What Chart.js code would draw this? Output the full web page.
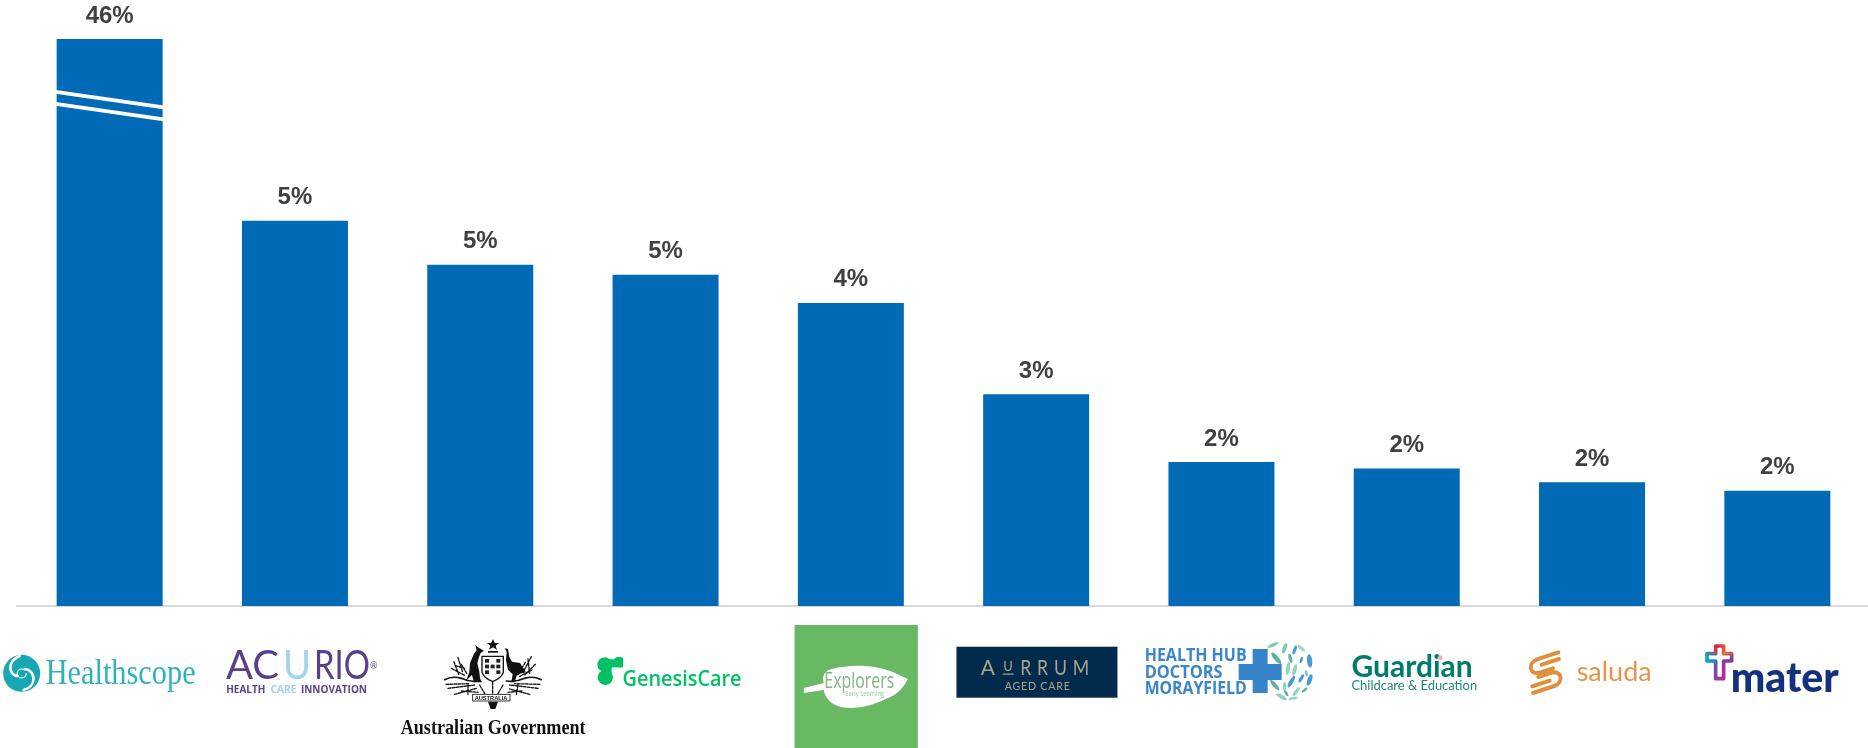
<!DOCTYPE html>
<html>
<head>
<meta charset="utf-8">
<title>Top employers</title>
<script src="https://cdn.jsdelivr.net/npm/chart.js@4"></script>
<style>
  html, body { margin: 0; background: #fff; overflow: hidden; }
  canvas { display: block; }
</style>
</head>
<body>
<canvas id="employerChart" width="1870" height="748"></canvas>
<script>
const categories = ['Healthscope', 'Acurio', 'Australian Government', 'GenesisCare', 'Explorers',
    'Aurrum', 'Health Hub Doctors Morayfield', 'Guardian', 'Saluda', 'Mater'];
const shares = [46, 5.35, 4.74, 4.6, 4.21, 2.94, 2.0, 1.91, 1.72, 1.6];

// Above this value the axis is squeezed, so the first bar fits next to the others.
const breakValue = 6.95;
const belowBreakShare = 0.8825;

class BrokenScale extends Chart.LinearScale {
    static id = 'broken';
    static defaults = Chart.LinearScale.defaults;

    getPixelForValue(value) {
        const share = value <= breakValue
            ? value / breakValue * belowBreakShare
            : belowBreakShare + (value - breakValue) / (this.max - breakValue) * (1 - belowBreakShare);
        return this.bottom - share * (this.bottom - this.top);
    }

    getValueForPixel(pixel) {
        const share = (this.bottom - pixel) / (this.bottom - this.top);
        return share <= belowBreakShare
            ? share / belowBreakShare * breakValue
            : breakValue + (share - belowBreakShare) / (1 - belowBreakShare) * (this.max - breakValue);
    }
}
Chart.register(BrokenScale);

// Text with an optional squeeze and letter spacing.
function text(ctx, str, x, y, font, color, maxWidth, spacing) {
    ctx.font = font;
    ctx.fillStyle = color;
    ctx.letterSpacing = (spacing || 0) + 'px';
    ctx.textAlign = 'left';
    ctx.textBaseline = 'alphabetic';
    if (maxWidth) ctx.fillText(str, x, y, maxWidth);
    else ctx.fillText(str, x, y);
    ctx.letterSpacing = '0px';
}

function inBox(ctx, x, y, scale, draw) {
    ctx.save();
    ctx.translate(x, y);
    ctx.scale(scale, scale);
    draw();
    ctx.restore();
}

function poly(ctx, points) {
    ctx.beginPath();
    points.forEach((p, i) => i ? ctx.lineTo(p[0], p[1]) : ctx.moveTo(p[0], p[1]));
    ctx.closePath();
    ctx.fill();
}

// One brand mark per category, each in coordinates centred on its tick.
const logos = [
    function healthscope(ctx) {
        ctx.fillStyle = '#17a6b4';
        ctx.beginPath();
        ctx.arc(-88, 67.3, 18.5, 0, Math.PI * 2);
        ctx.fill();
        ctx.strokeStyle = '#fff';
        ctx.lineCap = 'round';
        ctx.lineWidth = 2.6;
        ctx.beginPath();
        ctx.moveTo(-90, 50);
        ctx.bezierCurveTo(-104, 56, -100, 70, -92, 70);
        ctx.stroke();
        ctx.beginPath();
        ctx.moveTo(-86, 84);
        ctx.bezierCurveTo(-72, 80, -74, 64, -85, 63);
        ctx.stroke();
        ctx.lineWidth = 1.2;
        ctx.beginPath();
        ctx.arc(-88, 67.5, 4.5, 0, Math.PI * 1.6);
        ctx.stroke();
        text(ctx, 'Healthscope', -64, 78.3, '36px "Liberation Serif"', '#2fb2be', 150);
    },
    function acurio(ctx) {
        const big = '400 40px Lato';
        text(ctx, 'AC', -69, 73.3, big, '#5a3f8a', 58);
        text(ctx, 'U', -12, 73.3, big, '#9fd4ee', 28);
        text(ctx, 'RIO', 19, 73.3, big, '#5a3f8a', 56);
        text(ctx, '®', 75, 63, '9px Lato', '#5a3f8a');
        const small = '700 11px "Open Sans"';
        text(ctx, 'HEALTH', -68.7, 87.3, small, '#5a3f8a', 39);
        text(ctx, 'CARE', -24.4, 87.3, small, '#9fd4ee', 26);
        text(ctx, 'INNOVATION', 6, 87.3, small, '#5a3f8a', 66);
    },
    function government(ctx) {
        inBox(ctx, -45.6, 29, 1 / 3, () => {
            ctx.fillStyle = '#111';
            ctx.strokeStyle = '#111';
            ctx.lineCap = 'round';
            // star and crest
            poly(ctx, [[175, 12], [180, 24], [193, 24], [183, 32], [187, 44], [175, 37], [163, 44], [167, 32], [157, 24], [170, 24]]);
            ctx.fillRect(160, 48, 30, 5);
            // kangaroo
            poly(ctx, [[122, 30], [132, 38], [148, 47], [138, 54], [134, 64], [128, 84], [134, 110], [136, 130], [142, 142],
                [118, 142], [112, 120], [94, 137], [104, 112], [106, 84], [118, 56], [126, 46]]);
            // emu
            poly(ctx, [[210, 40], [220, 42], [224, 66], [232, 80], [256, 84], [274, 112], [256, 116], [246, 122], [240, 142],
                [230, 142], [234, 118], [220, 104], [214, 76], [216, 50]]);
            // shield
            ctx.lineWidth = 4;
            ctx.fillStyle = '#fff';
            ctx.beginPath();
            ctx.moveTo(142, 64);
            ctx.lineTo(206, 64);
            ctx.lineTo(206, 112);
            ctx.quadraticCurveTo(200, 130, 174, 140);
            ctx.quadraticCurveTo(148, 130, 142, 112);
            ctx.closePath();
            ctx.fill();
            ctx.stroke();
            ctx.fillStyle = '#222';
            for (let row = 0; row < 3; row++) {
                for (let col = 0; col < 3; col++) {
                    if ((row + col) % 2 === 0 || row === 1) ctx.fillRect(151 + col * 17, 72 + row * 17, 12, 11);
                }
            }
            // wreath band and sprigs
            ctx.lineWidth = 5;
            ctx.beginPath();
            ctx.moveTo(30, 134);
            ctx.quadraticCurveTo(55, 122, 80, 130);
            ctx.quadraticCurveTo(105, 142, 130, 138);
            ctx.moveTo(320, 134);
            ctx.quadraticCurveTo(295, 122, 270, 130);
            ctx.quadraticCurveTo(245, 142, 215, 138);
            ctx.stroke();
            const sprigs = [[58, 80, 72, 118], [70, 68, 84, 112], [50, 100, 92, 122], [80, 88, 98, 118], [62, 92, 90, 100],
                [290, 65, 265, 112], [302, 88, 270, 120], [272, 82, 250, 118], [292, 105, 255, 124], [280, 72, 285, 115],
                [40, 160, 120, 150], [60, 178, 125, 160], [34, 148, 105, 146], [80, 168, 130, 172], [100, 150, 100, 178],
                [310, 160, 225, 150], [285, 178, 225, 162], [316, 148, 240, 146], [262, 168, 220, 172], [250, 150, 245, 178],
                [135, 150, 150, 176], [205, 150, 190, 176], [174, 142, 174, 176]];
            ctx.lineWidth = 4;
            ctx.setLineDash([8, 4]);
            sprigs.forEach(s => {
                ctx.beginPath();
                ctx.moveTo(s[0], s[1]);
                ctx.lineTo(s[2], s[3]);
                ctx.stroke();
            });
            ctx.setLineDash([]);
            // ribbon
            ctx.lineWidth = 2.5;
            ctx.strokeRect(114, 178, 112, 20);
            text(ctx, 'AUSTRALIA', 120, 194, 'bold 17px "Liberation Sans"', '#111', 100);
            ctx.fillStyle = '#111';
            poly(ctx, [[160, 200], [190, 200], [182, 222], [168, 222]]);
        });
        text(ctx, 'Australian Government', -79.6, 128, 'bold 20px "Liberation Serif"', '#111', 185);
    },
    function genesisCare(ctx) {
        inBox(ctx, -75.9, 44, 1 / 3, () => {
            ctx.fillStyle = '#00c265';
            [[45, 44, 22], [47, 82, 23], [86, 36, 15]].forEach(c => {
                ctx.beginPath();
                ctx.arc(c[0], c[1], c[2], 0, Math.PI * 2);
                ctx.fill();
            });
            ctx.fillRect(45, 28, 50, 24);
            ctx.fillRect(84, 22, 16, 30);
            ctx.fillRect(36, 50, 30, 30);
        });
        text(ctx, 'GenesisCare', -43, 80, '600 21px "Open Sans"', '#00c265', 119);
    },
    function explorers(ctx) {
        ctx.fillStyle = '#69b964';
        ctx.fillRect(-56.3, 19, 123.3, 123);
        ctx.fillStyle = '#fff';
        ctx.beginPath();
        ctx.moveTo(-47, 82);
        ctx.lineTo(-27, 77);
        ctx.bezierCurveTo(-30, 66, -22, 62, -8, 61);
        ctx.bezierCurveTo(10, 58, 30, 61, 42, 66);
        ctx.lineTo(57, 73);
        ctx.bezierCurveTo(52, 82, 48, 88, 35, 93);
        ctx.bezierCurveTo(20, 100, 5, 104, -10, 101);
        ctx.bezierCurveTo(-20, 98, -26, 92, -27, 84);
        ctx.lineTo(-47, 87);
        ctx.closePath();
        ctx.fill();
        text(ctx, 'Explorers', -26.5, 81.5, '22px "Open Sans"', '#84b47f', 70);
        text(ctx, 'Early Learning', -5.6, 90, '8px "Open Sans"', '#9dc499', 39);
    },
    function aurrum(ctx) {
        ctx.fillStyle = '#012a4d';
        ctx.fillRect(-79.7, 40.7, 161, 51);
        const gold = '#a8a688';
        const big = '400 21px Lato';
        text(ctx, 'A', -55.5, 69, big, gold);
        text(ctx, 'U', -33, 65, '400 13px Lato', gold);
        ctx.fillStyle = gold;
        ctx.fillRect(-33.5, 67.5, 11, 1.2);
        text(ctx, 'RRUM', -16, 69, big, gold, 75, 7);
        text(ctx, 'AGED CARE', -31.5, 84, '400 11px Lato', gold, 66, 0.8);
    },
    function healthHub(ctx) {
        const leaves = [[40, 30, 18, 5, -25, '#7cc8b4'], [75, 40, 16, 6, -70, '#7cc8b4'], [50, 70, 22, 7, 50, '#5fae9e'],
            [105, 45, 14, 5, -70, '#4a9ad4'], [125, 40, 14, 5, 40, '#9cd8c4'], [92, 70, 14, 5, 75, '#5fae9e'],
            [125, 75, 10, 4, -75, '#4a9ad4'], [150, 78, 20, 8, 85, '#4a9ad4'], [105, 105, 18, 6, -75, '#8ed6c0'],
            [85, 100, 20, 6, 100, '#8ed6c0'], [140, 115, 10, 4, 80, '#7cc8b4'], [150, 135, 18, 7, -70, '#4a9ad4'],
            [125, 130, 14, 5, -60, '#4a9ad4'], [95, 140, 20, 6, -60, '#4a9ad4'], [75, 155, 14, 5, 90, '#8ed6c0'],
            [45, 150, 20, 6, 50, '#5fae9e'], [110, 170, 16, 5, -50, '#8ed6c0'], [135, 165, 10, 4, -40, '#5fae9e'],
            [65, 185, 18, 6, 30, '#8ed6c0'], [100, 190, 14, 4, -15, '#8ed6c0'], [80, 175, 10, 4, 60, '#5fae9e']];
        inBox(ctx, 38.2, 29, 1 / 3, () => {
            leaves.forEach(l => {
                ctx.fillStyle = l[5];
                ctx.beginPath();
                ctx.ellipse(l[0], l[1], l[2], l[3], l[4] * Math.PI / 180, 0, Math.PI * 2);
                ctx.fill();
            });
        });
        const font = '700 18px "Open Sans"';
        text(ctx, 'HEALTH HUB', -76.8, 55, font, '#3b86c9', 102);
        text(ctx, 'DOCTORS', -76.8, 71.5, font, '#3b86c9', 78);
        text(ctx, 'MORAYFIELD', -76.8, 87.5, font, '#3b86c9', 102);
        ctx.fillStyle = '#3785c8';
        ctx.fillRect(17.2, 58, 43, 16);
        ctx.fillRect(31.2, 43, 15, 44);
    },
    function guardian(ctx) {
        text(ctx, 'Guardian', -55.3, 71.3, '700 30px Lato', '#007c6b', 125.7);
        ctx.fillStyle = '#f5b0b5';
        ctx.beginPath();
        ctx.arc(33.5, 52, 2.4, 0, Math.PI * 2);
        ctx.fill();
        text(ctx, 'Childcare & Education', -55.3, 84, '400 14px Lato', '#1d8878', 125.7);
    },
    function saluda(ctx) {
        inBox(ctx, -72.4, 34, 1 / 3, () => {
            ctx.strokeStyle = '#e08f3c';
            ctx.lineWidth = 12;
            ctx.lineCap = 'round';
            ctx.beginPath();
            ctx.moveTo(116, 37);
            ctx.lineTo(52, 58);
            ctx.bezierCurveTo(24, 68, 28, 106, 60, 98);
            ctx.lineTo(100, 85);
            ctx.moveTo(118, 57);
            ctx.lineTo(66, 74);
            ctx.moveTo(40, 159);
            ctx.lineTo(104, 138);
            ctx.bezierCurveTo(132, 128, 128, 90, 96, 98);
            ctx.lineTo(56, 111);
            ctx.moveTo(38, 139);
            ctx.lineTo(90, 122);
            ctx.stroke();
        });
        text(ctx, 'saluda', -15.4, 74.7, '400 27px Lato', '#e5954a', 75);
    },
    function mater(ctx) {
        inBox(ctx, -77.7, 34, 1 / 3, () => {
            const ring = ctx.createConicGradient(0, 60, 55);
            ring.addColorStop(0, '#7b3fa6');
            ring.addColorStop(0.25, '#b0309a');
            ring.addColorStop(0.38, '#2f6fbe');
            ring.addColorStop(0.5, '#00b0d0');
            ring.addColorStop(0.72, '#e6203f');
            ring.addColorStop(0.88, '#f0742c');
            ring.addColorStop(1, '#7b3fa6');
            ctx.strokeStyle = ring;
            ctx.lineWidth = 11;
            ctx.lineJoin = 'round';
            ctx.beginPath();
            [[48, 18], [72, 18], [72, 41], [96, 41], [96, 63], [72, 63], [72, 116], [48, 116], [48, 63], [22, 63], [22, 41], [48, 41]]
                .forEach((p, i) => i ? ctx.lineTo(p[0], p[1]) : ctx.moveTo(p[0], p[1]));
            ctx.closePath();
            ctx.stroke();
        });
        text(ctx, 'mater', -46.7, 85.7, '900 41px Lato', '#13317c', 110);
    }
];

const logoPlugin = {
    id: 'logoRow',
    afterDraw(chart) {
        const { ctx, scales: { x, y } } = chart;
        logos.forEach((draw, i) => {
            ctx.save();
            ctx.translate(x.getPixelForTick(i), y.bottom);
            draw(ctx);
            ctx.restore();
        });
    }
};

// Value labels over the bars, and the two slanted cuts through the first bar.
const barExtras = {
    id: 'barExtras',
    afterDatasetsDraw(chart) {
        const { ctx, scales: { y } } = chart;
        const bars = chart.getDatasetMeta(0).data;

        const first = bars[0];
        const cutY = y.getPixelForValue(breakValue);
        const half = first.width / 2 + 1;
        ctx.save();
        ctx.strokeStyle = '#fff';
        ctx.lineWidth = 3.8;
        [-6, 6].forEach(offset => {
            ctx.beginPath();
            ctx.moveTo(first.x - half, cutY + offset - 7.8);
            ctx.lineTo(first.x + half, cutY + offset + 7.8);
            ctx.stroke();
        });

        ctx.font = 'bold 24px "Liberation Sans"';
        ctx.fillStyle = '#404040';
        ctx.textAlign = 'center';
        ctx.textBaseline = 'alphabetic';
        bars.forEach((bar, i) => {
            ctx.fillText(Math.round(shares[i]) + '%', bar.x, bar.y - 16.5);
        });
        ctx.restore();
    }
};

new Chart(document.getElementById('employerChart').getContext('2d'), {
    type: 'bar',
    data: {
        labels: categories,
        datasets: [{
            data: shares,
            backgroundColor: '#006ab6',
            borderWidth: 0,
            categoryPercentage: 1,
            barPercentage: 0.572
        }]
    },
    options: {
        responsive: false,
        animation: false,
        layout: { padding: { left: 17, right: 0, top: 39, bottom: 134 } },
        plugins: { legend: { display: false }, tooltip: { enabled: false } },
        scales: {
            x: {
                grid: { display: false },
                ticks: { display: false },
                border: { color: '#d9d9d9', width: 2 }
            },
            y: { type: 'broken', display: false, min: 0, max: 46 }
        }
    },
    plugins: [barExtras, logoPlugin]
});
</script>
</body>
</html>
